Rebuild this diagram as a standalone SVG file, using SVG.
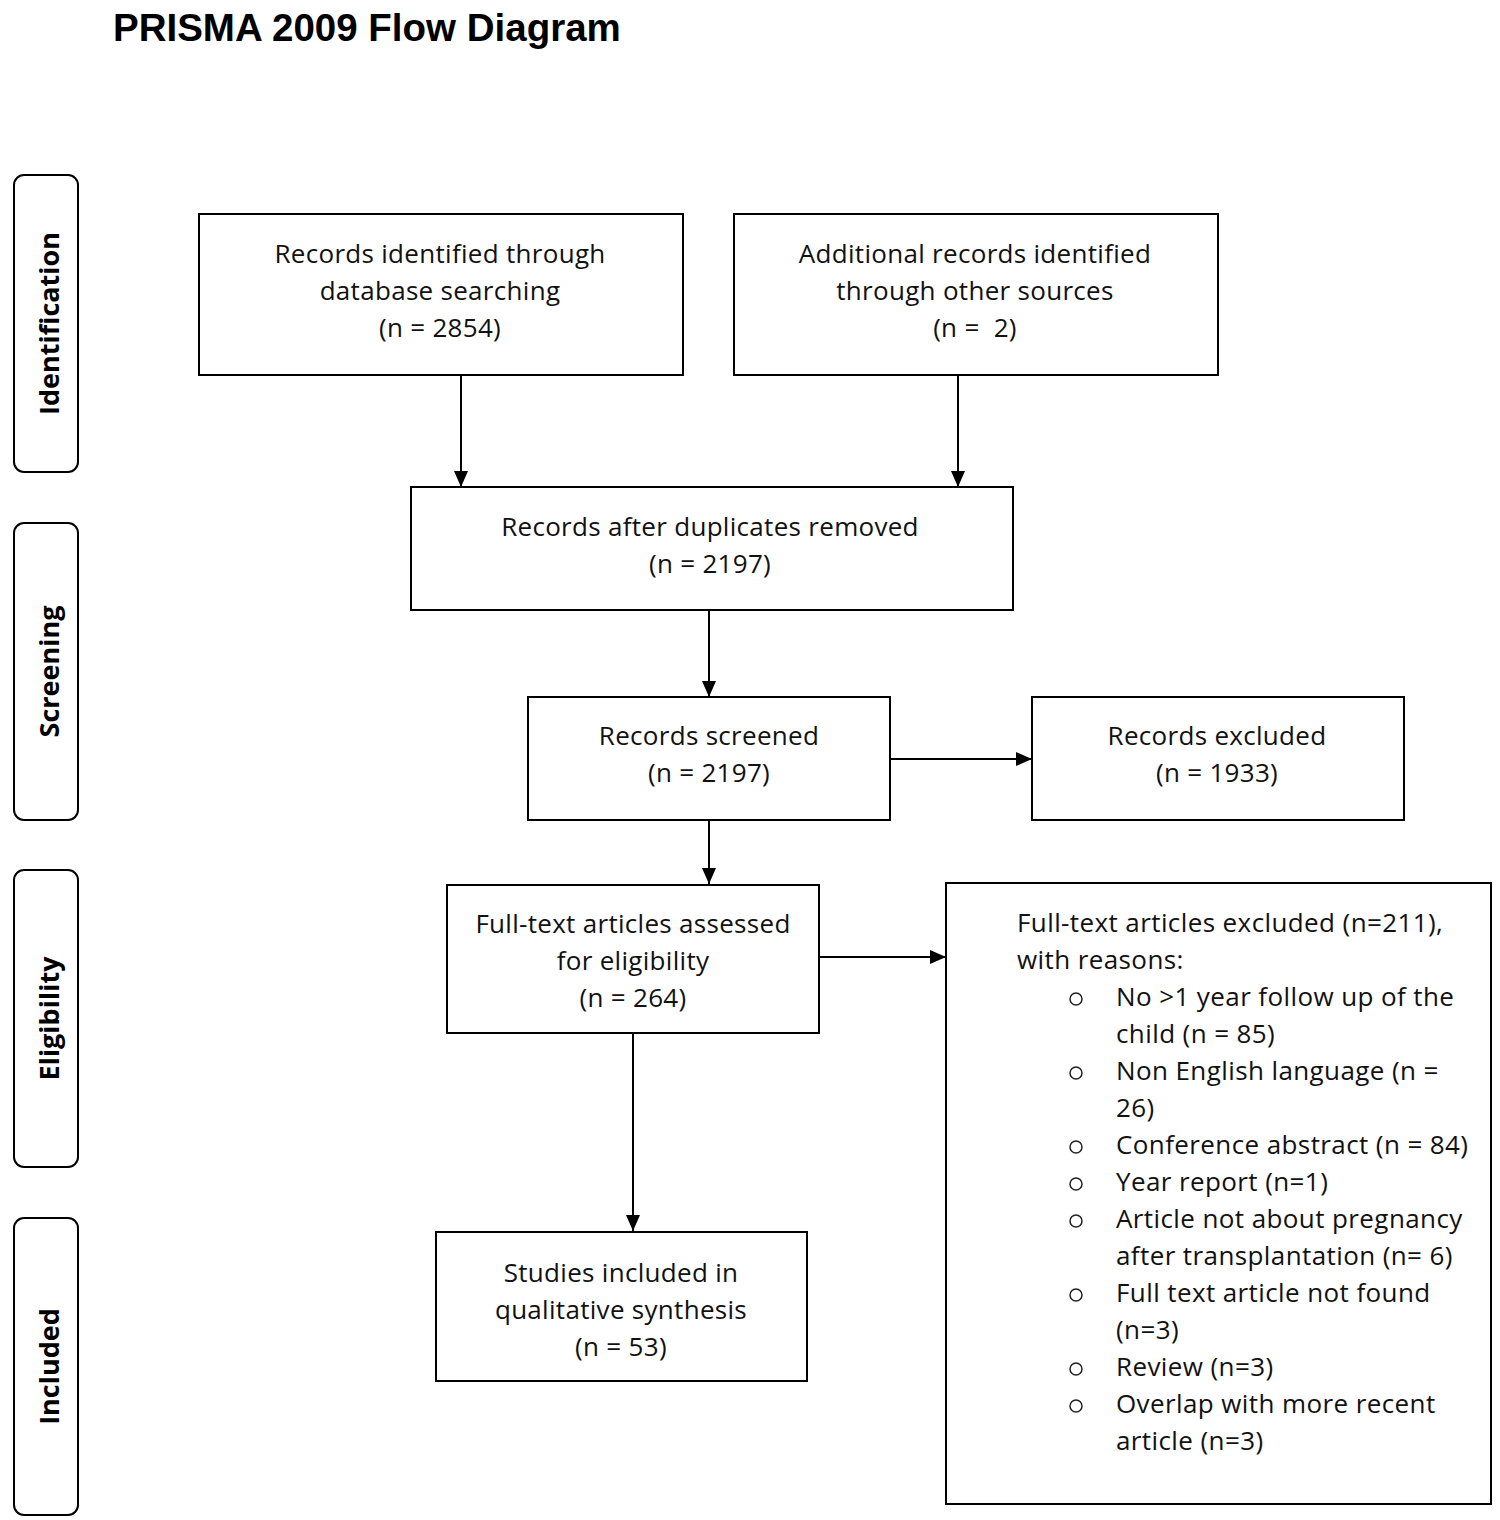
<svg xmlns="http://www.w3.org/2000/svg" width="1500" height="1520" viewBox="0 0 1500 1520">
<defs>
<marker id="ah" markerWidth="16" markerHeight="16" refX="16" refY="7" orient="auto" markerUnits="userSpaceOnUse" viewBox="0 0 16 14">
<path d="M0,0 L16,7 L0,14 z" fill="#000"/>
</marker>
<style>
.box{fill:#fff;stroke:#000;stroke-width:2}
.side{fill:#fff;stroke:#000;stroke-width:2}
.t{font-family:"Open Sans","Noto Sans",sans-serif;font-size:26px;letter-spacing:0.3px;fill:#111;text-anchor:middle}
.l{font-family:"Open Sans","Noto Sans",sans-serif;font-size:26px;letter-spacing:0.4px;fill:#111}
.s{font-family:"Open Sans","Noto Sans",sans-serif;font-size:27px;font-weight:bold;fill:#000;text-anchor:middle}
.ttl{font-family:"Liberation Sans",Arial,sans-serif;font-size:38.5px;font-weight:bold;fill:#000}
.c{stroke:#000;stroke-width:2;fill:none;marker-end:url(#ah)}
.b{fill:none;stroke:#222;stroke-width:1.5}
</style>
</defs>
<rect width="1500" height="1520" fill="#fff"/>
<text class="ttl" x="113" y="41">PRISMA 2009 Flow Diagram</text>

<g id="side-identification"><rect class="side" x="14" y="175" width="64" height="297" rx="10"/><text class="s" transform="translate(59,323.5) rotate(-90)">Identification</text></g>
<g id="side-screening"><rect class="side" x="14" y="523" width="64" height="297" rx="10"/><text class="s" transform="translate(59,671.5) rotate(-90)">Screening</text></g>
<g id="side-eligibility"><rect class="side" x="14" y="870" width="64" height="297" rx="10"/><text class="s" transform="translate(59,1018.5) rotate(-90)">Eligibility</text></g>
<g id="side-included"><rect class="side" x="14" y="1218" width="64" height="297" rx="10"/><text class="s" transform="translate(59,1366.5) rotate(-90)">Included</text></g>

<g id="connectors">
<line class="c" x1="461" y1="375" x2="461" y2="487"/>
<line class="c" x1="958" y1="375" x2="958" y2="487"/>
<line class="c" x1="709" y1="610" x2="709" y2="697"/>
<line class="c" x1="890" y1="759" x2="1032" y2="759"/>
<line class="c" x1="709" y1="820" x2="709" y2="884"/>
<line class="c" x1="808" y1="957" x2="946" y2="957"/>
<line class="c" x1="633" y1="1033" x2="633" y2="1231"/>
</g>

<g id="n-database"><rect class="box" x="199" y="214" width="484" height="161"/>
<text class="t" x="440" y="263">Records identified through</text>
<text class="t" x="440" y="300">database searching</text>
<text class="t" x="440" y="337">(n = 2854)</text></g>

<g id="n-other"><rect class="box" x="734" y="214" width="484" height="161"/>
<text class="t" x="975" y="263">Additional records identified</text>
<text class="t" x="975" y="300">through other sources</text>
<text class="t" x="975" y="337" xml:space="preserve">(n =  2)</text></g>

<g id="n-duplicates"><rect class="box" x="411" y="487" width="602" height="123"/>
<text class="t" x="710" y="536">Records after duplicates removed</text>
<text class="t" x="710" y="573">(n = 2197)</text></g>

<g id="n-screened"><rect class="box" x="528" y="697" width="362" height="123"/>
<text class="t" x="709" y="745">Records screened</text>
<text class="t" x="709" y="782">(n = 2197)</text></g>

<g id="n-excluded"><rect class="box" x="1032" y="697" width="372" height="123"/>
<text class="t" x="1217" y="745">Records excluded</text>
<text class="t" x="1217" y="782">(n = 1933)</text></g>

<g id="n-fulltext"><rect class="box" x="447" y="885" width="372" height="148"/>
<text class="t" x="633" y="933">Full-text articles assessed</text>
<text class="t" x="633" y="970">for eligibility</text>
<text class="t" x="633" y="1007">(n = 264)</text></g>

<g id="n-included"><rect class="box" x="436" y="1232" width="371" height="149"/>
<text class="t" x="621" y="1282">Studies included in</text>
<text class="t" x="621" y="1319">qualitative synthesis</text>
<text class="t" x="621" y="1356">(n = 53)</text></g>

<g id="n-reasons"><rect class="box" x="946" y="883" width="545" height="621"/>
<text class="l" x="1017" y="932">Full-text articles excluded (n=211),</text>
<text class="l" x="1017" y="969">with reasons:</text>
<circle class="b" cx="1076" cy="999" r="6"/>
<text class="l" x="1116" y="1006">No &gt;1 year follow up of the</text>
<text class="l" x="1116" y="1043">child (n = 85)</text>
<circle class="b" cx="1076" cy="1073" r="6"/>
<text class="l" x="1116" y="1080">Non English language (n =</text>
<text class="l" x="1116" y="1117">26)</text>
<circle class="b" cx="1076" cy="1147" r="6"/>
<text class="l" x="1116" y="1154">Conference abstract (n = 84)</text>
<circle class="b" cx="1076" cy="1184" r="6"/>
<text class="l" x="1116" y="1191">Year report (n=1)</text>
<circle class="b" cx="1076" cy="1221" r="6"/>
<text class="l" x="1116" y="1228">Article not about pregnancy</text>
<text class="l" x="1116" y="1265">after transplantation (n= 6)</text>
<circle class="b" cx="1076" cy="1295" r="6"/>
<text class="l" x="1116" y="1302">Full text article not found</text>
<text class="l" x="1116" y="1339">(n=3)</text>
<circle class="b" cx="1076" cy="1369" r="6"/>
<text class="l" x="1116" y="1376">Review (n=3)</text>
<circle class="b" cx="1076" cy="1406" r="6"/>
<text class="l" x="1116" y="1413">Overlap with more recent</text>
<text class="l" x="1116" y="1450">article (n=3)</text></g>
</svg>
